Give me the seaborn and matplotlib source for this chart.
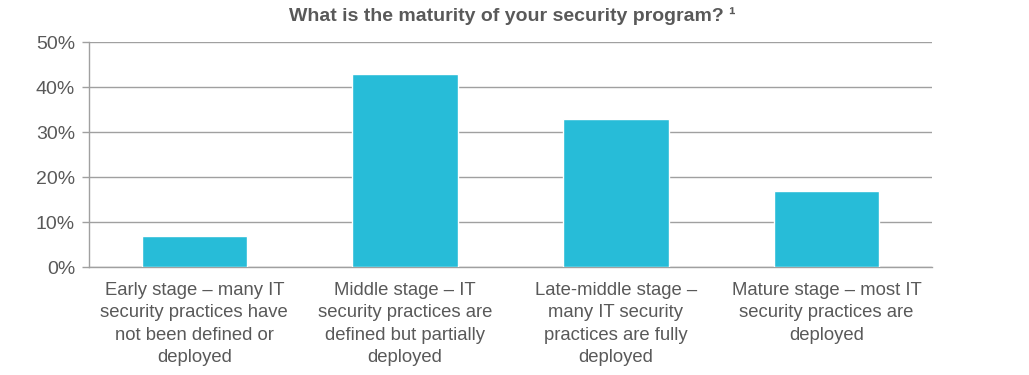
import matplotlib
matplotlib.use("Agg")
import matplotlib.pyplot as plt
import seaborn as sns
import pandas as pd

categories = [
    "Early stage – many IT\nsecurity practices have\nnot been defined or\ndeployed",
    "Middle stage – IT\nsecurity practices are\ndefined but partially\ndeployed",
    "Late-middle stage –\nmany IT security\npractices are fully\ndeployed",
    "Mature stage – most IT\nsecurity practices are\ndeployed",
]
values = [7, 43, 33, 17]
yticks = [0, 10, 20, 30, 40, 50]
ytick_labels = ["0%", "10%", "20%", "30%", "40%", "50%"]
title = "What is the maturity of your security program? ¹"

sns.set_theme(style="white")
plt.rcParams["font.family"] = ["Liberation Sans", "DejaVu Sans"]

df = pd.DataFrame({"cat": categories, "val": values})
fig = plt.figure(figsize=(10.29, 3.75), dpi=100)
ax = fig.add_axes([89/1029, 108/375, (932-89)/1029, 225/375])
sns.barplot(data=df, x="cat", y="val", color="#27BCD8", width=0.5, saturation=1, ax=ax, zorder=3)
ax.set_ylim(0, 50)
ax.set_yticks(yticks)
ax.set_yticklabels(ytick_labels, fontsize=14, color="#595959")
ax.set_xlabel("")
ax.set_ylabel("")
ax.tick_params(axis="x", length=0, labelsize=13.3, labelcolor="#595959", pad=11)
ax.tick_params(axis="y", length=5, width=1, color="#A0A0A0", pad=5, left=True)
for t in ax.get_xticklabels():
    t.set_linespacing(1.4)
ax.grid(axis="y", color="#A0A0A0", linewidth=1, zorder=0)
ax.set_axisbelow(True)
for s in ["top", "right"]:
    ax.spines[s].set_visible(False)
for s in ["left", "bottom"]:
    ax.spines[s].set_color("#A0A0A0")
    ax.spines[s].set_linewidth(1)
ax.set_xlim(-0.5, 3.5)
fig.text(512/1029, 1 - 16/375, title, ha="center", va="center", fontsize=14,
         fontweight="bold", color="#595959")
fig.savefig("out.png", dpi=100, facecolor="white")
